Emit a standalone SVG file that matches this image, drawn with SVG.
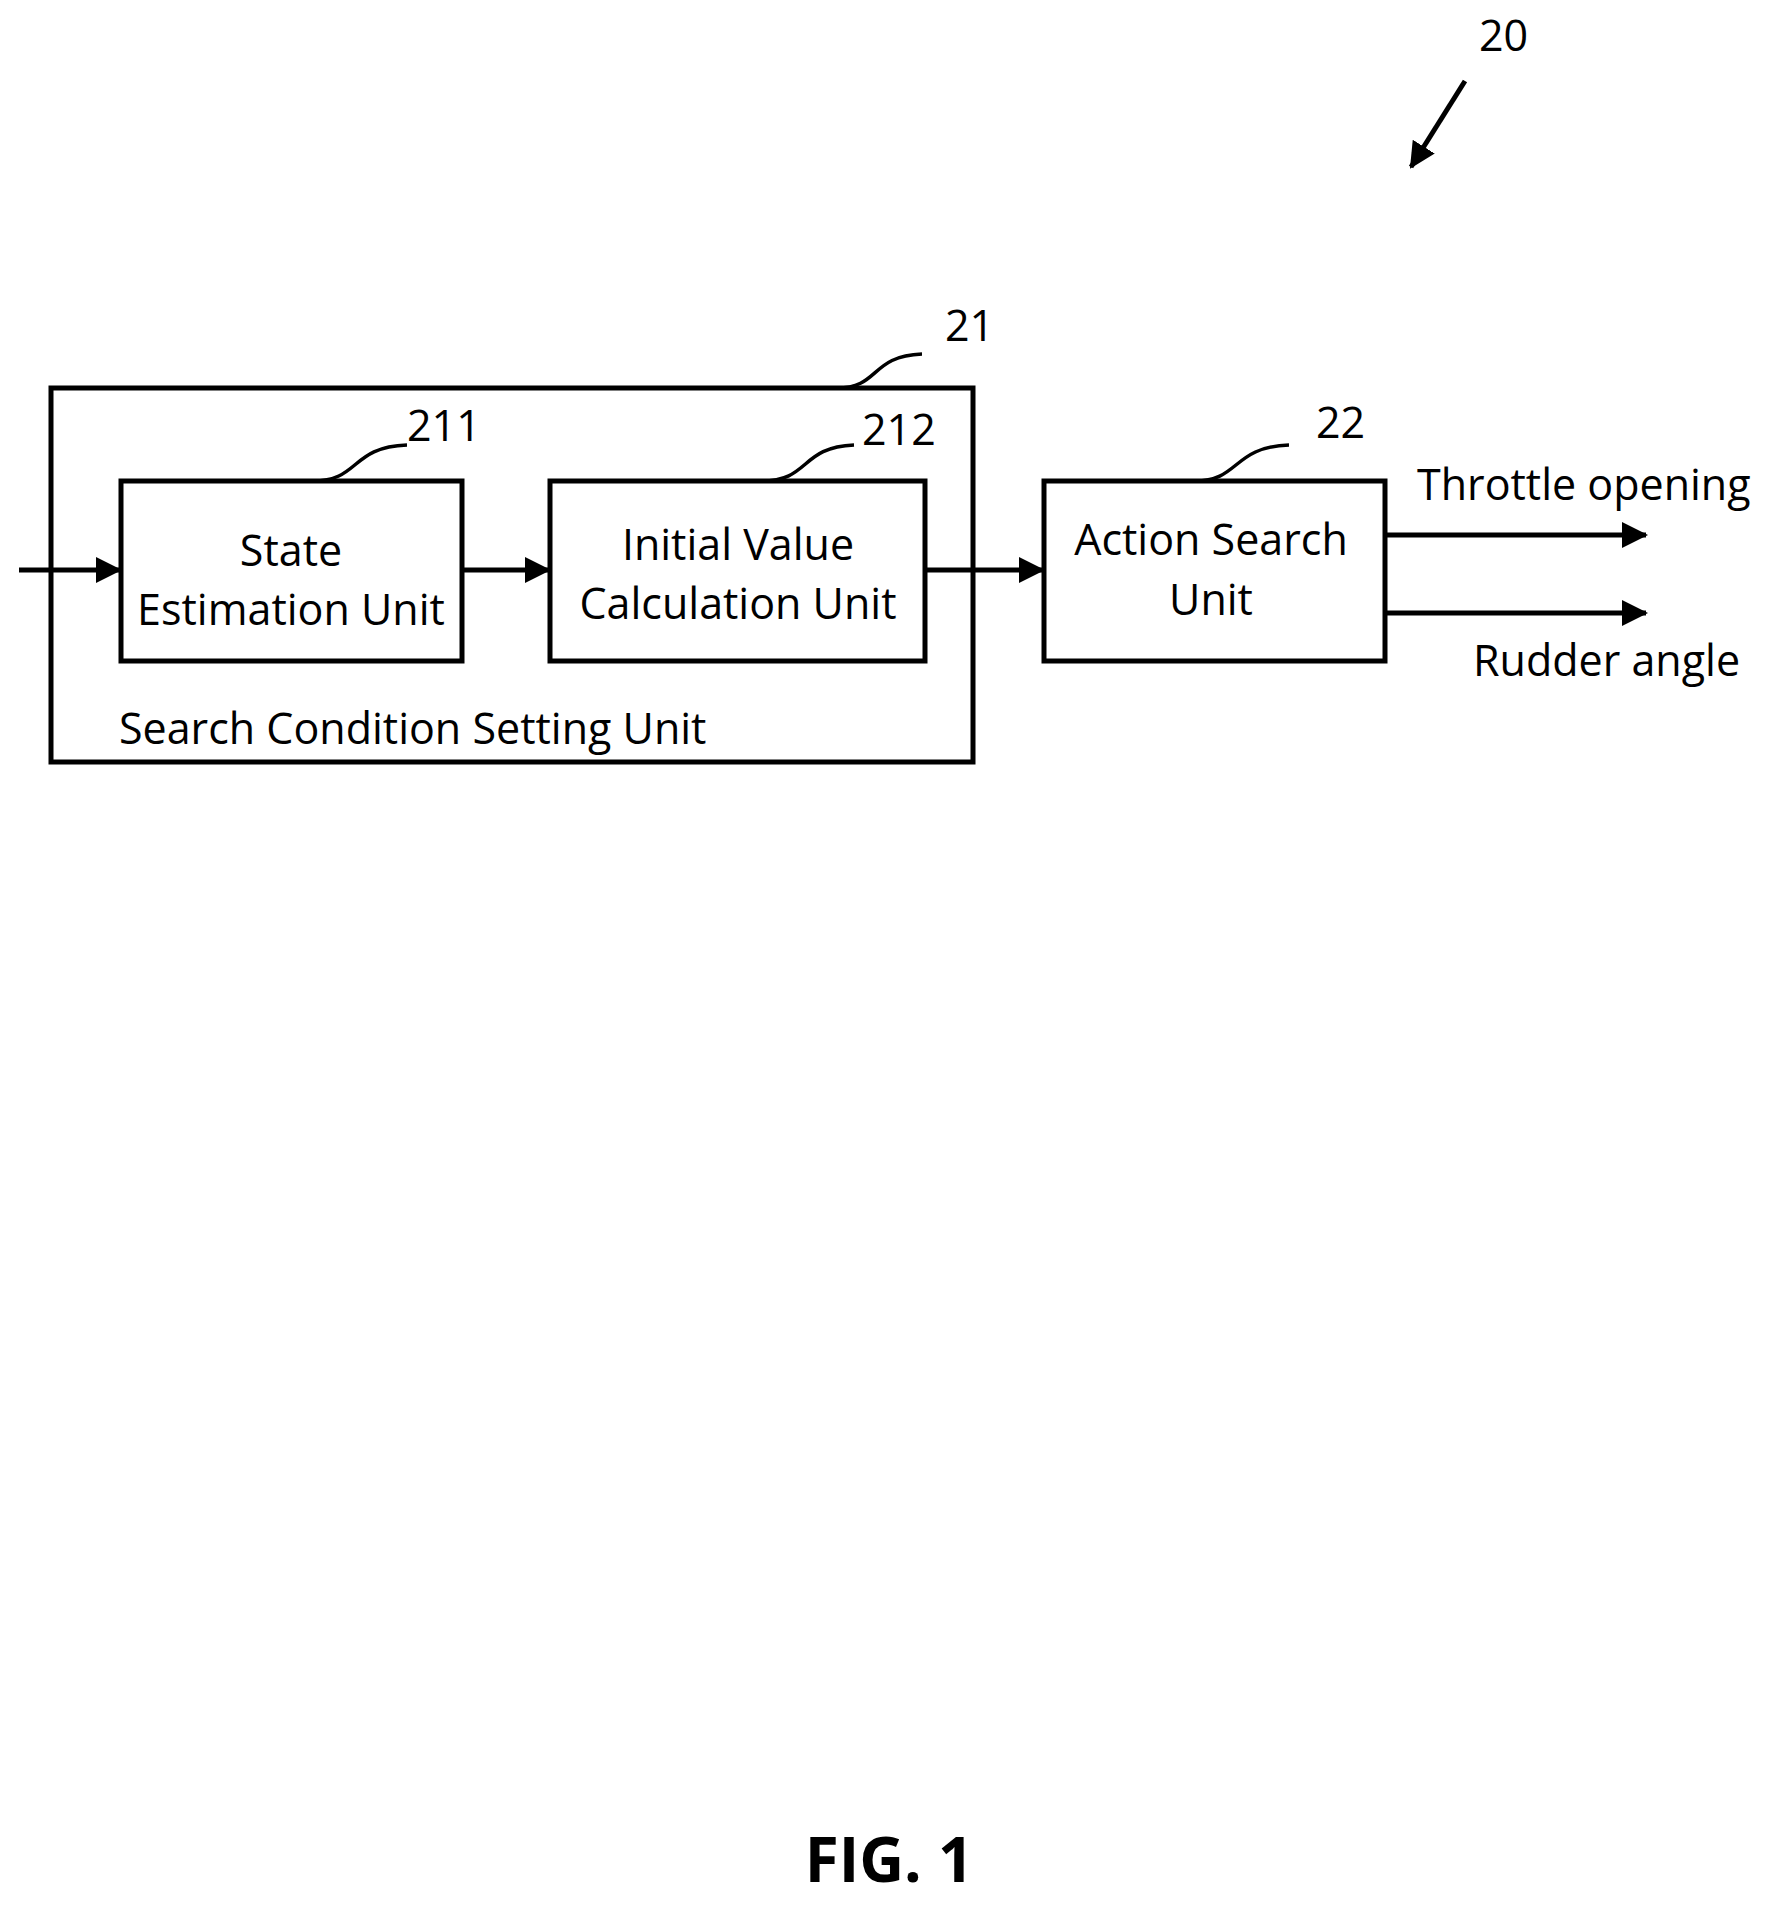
<svg xmlns="http://www.w3.org/2000/svg" width="1779" height="1908" viewBox="0 0 1779 1908">
<style>
text{font-family:"Open Sans","Liberation Sans",sans-serif;font-size:43px;fill:#000}
.m{text-anchor:middle}
.box{fill:#fff;stroke:#000;stroke-width:5}
.ln{fill:none;stroke:#000;stroke-width:5}
.ld{fill:none;stroke:#000;stroke-width:3.5}
</style>
<defs><marker id="ah" markerWidth="8" markerHeight="8" refX="7" refY="4" orient="auto" markerUnits="userSpaceOnUse" viewBox="0 0 8 8"><path d="M0,0 L8,4 L0,8 Z" fill="#000"/></marker>
<marker id="a2" markerWidth="26" markerHeight="26" refX="24" refY="13" orient="auto" markerUnits="userSpaceOnUse"><path d="M0,0 L26,13 L0,26 Z" fill="#000"/></marker></defs>
<rect width="1779" height="1908" fill="#fff"/>
<g id="n21"><rect class="box" x="51" y="388" width="922" height="374"/><text x="119" y="744">Search Condition Setting Unit</text><path class="ld" d="M837,388 C880,388 870,356 922,354"/><text x="945" y="341">21</text></g>
<g id="n211"><rect class="box" x="121" y="481" width="341" height="180"/><text class="m" x="291" y="566">State</text><text class="m" x="291" y="625">Estimation Unit</text><path class="ld" d="M313,481 C360,481 350,447 407,445"/><text x="407" y="441">211</text></g>
<g id="n212"><rect class="box" x="550" y="481" width="375" height="180"/><text class="m" x="738" y="560">Initial Value</text><text class="m" x="738" y="619">Calculation Unit</text><path class="ld" d="M762,481 C810,481 800,447 854,445"/><text x="862" y="445">212</text></g>
<g id="n22"><rect class="box" x="1044" y="481" width="341" height="180"/><text class="m" x="1211" y="555">Action Search</text><text class="m" x="1211" y="615">Unit</text><path class="ld" d="M1195,481 C1240,481 1232,447 1289,445"/><text x="1316" y="438">22</text></g>
<g id="connectors">
<line class="ln" x1="19" y1="570" x2="120" y2="570" marker-end="url(#a2)"/>
<line class="ln" x1="462" y1="570" x2="549" y2="570" marker-end="url(#a2)"/>
<line class="ln" x1="925" y1="570" x2="1043" y2="570" marker-end="url(#a2)"/>
<line class="ln" x1="1385" y1="535" x2="1646" y2="535" marker-end="url(#a2)"/>
<line class="ln" x1="1385" y1="613" x2="1646" y2="613" marker-end="url(#a2)"/>
<line class="ln" x1="1465" y1="81" x2="1411" y2="167" marker-end="url(#a2)"/>
</g>
<text x="1417" y="500">Throttle opening</text>
<text x="1473" y="676">Rudder angle</text>
<text x="1479" y="51">20</text>
<text class="m" x="889" y="1882" style="font-weight:bold;font-size:62px">FIG. 1</text>
</svg>
